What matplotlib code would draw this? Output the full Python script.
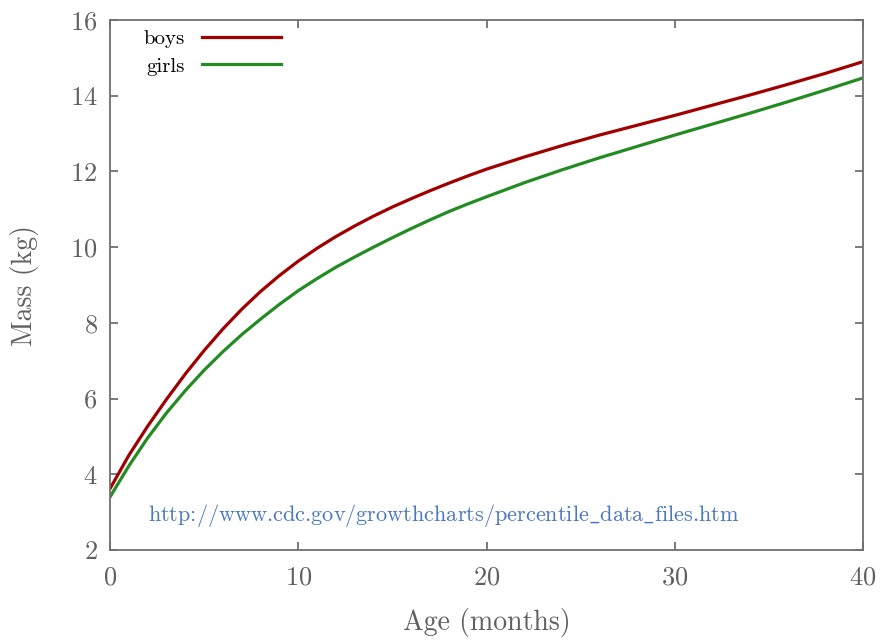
import matplotlib
matplotlib.use('Agg')
import matplotlib.pyplot as plt

# CDC 50th percentile mass
months = [0, 1, 2, 3, 4, 5, 6, 7, 8, 9, 10, 11, 12, 13, 14, 15, 16, 17, 18,
          19, 20, 22, 24, 26, 28, 30, 32, 34, 36, 38, 40]
boys = [3.62, 4.5, 5.27, 5.98, 6.65, 7.27, 7.84, 8.36, 8.83, 9.25, 9.63,
        9.97, 10.28, 10.56, 10.82, 11.06, 11.28, 11.49, 11.69, 11.88, 12.06,
        12.38, 12.68, 12.96, 13.22, 13.48, 13.75, 14.02, 14.3, 14.59, 14.9]
girls = [3.4, 4.22, 4.96, 5.62, 6.21, 6.75, 7.24, 7.69, 8.1, 8.49, 8.85,
         9.17, 9.47, 9.74, 10.0, 10.25, 10.49, 10.72, 10.94, 11.14, 11.33,
         11.7, 12.04, 12.36, 12.66, 12.96, 13.25, 13.54, 13.84, 14.15, 14.47]
source = (r'$\text{http://www.cdc.gov/growthcharts/percentile}\_'
          r'\text{data}\_\text{files.htm}$')

plt.rcParams['font.family'] = 'serif'
plt.rcParams['font.serif'] = ['cmr10', 'DejaVu Serif']
plt.rcParams['mathtext.fontset'] = 'cm'
plt.rcParams['axes.formatter.use_mathtext'] = True

gray = '#707070'
fig = plt.figure(figsize=(8.85, 6.43), dpi=100)
ax = fig.add_axes([110/885, 93/643, 753/885, 530/643])

ax.plot(months, boys, color='#a00000', lw=2.3, label='boys')
ax.plot(months, girls, color='#228b22', lw=2.3, label='girls')

ax.set_xlim(0, 40)
ax.set_ylim(2, 16)
ax.set_xticks([0, 10, 20, 30, 40])
ax.set_yticks([2, 4, 6, 8, 10, 12, 14, 16])
ax.tick_params(direction='in', length=6, width=1.3, color=gray,
               labelcolor='#606060', labelsize=19, top=True, right=True)
ax.tick_params(axis='x', pad=11)
ax.tick_params(axis='y', pad=9)
for s in ax.spines.values():
    s.set_color(gray)
    s.set_linewidth(1.3)

ax.set_xlabel('Age (months)', fontsize=20, color='#606060', labelpad=14)
ax.set_ylabel('Mass (kg)', fontsize=20, color='#606060', labelpad=22)

ax.text(2.0, 2.92, source, color='#4a78c0', fontsize=16, va='center')

leg = ax.legend(loc='upper left', bbox_to_anchor=(0.02, 1.018), frameon=False,
                fontsize=15, markerfirst=False, handlelength=3.8,
                handletextpad=0.8, labelspacing=0.45)

fig.savefig('out.png', dpi=100)
